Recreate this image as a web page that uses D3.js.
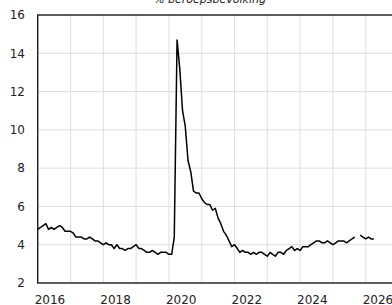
<!DOCTYPE html>
<html lang="nl">
<head>
  <meta charset="UTF-8">
  <title>Werkloosheid VS</title>
  <script src="https://d3js.org/d3.v7.min.js"></script>
  <style>
    body { margin: 0; background: #fff; }
    svg { display: block; font-family: "DejaVu Sans", sans-serif; }
    .tick-label { font-size: 12px; fill: #222; }
    .grid { stroke: #dedede; stroke-width: 1; }
  </style>
</head>
<body>
  <svg width="392" height="305"></svg>

  <script>
    // werkloosheid, % beroepsbevolking, maandcijfers (okt 2025 ontbreekt)
    const u2016 = [4.8, 4.9, 5.0, 5.1, 4.8, 4.9, 4.8, 4.9, 5.0, 4.9, 4.7, 4.7];
    const u2017 = [4.7, 4.6, 4.4, 4.4, 4.4, 4.3, 4.3, 4.4, 4.3, 4.2, 4.2, 4.1];
    const u2018 = [4.0, 4.1, 4.0, 4.0, 3.8, 4.0, 3.8, 3.8, 3.7, 3.8, 3.8, 3.9];
    const u2019 = [4.0, 3.8, 3.8, 3.7, 3.6, 3.6, 3.7, 3.6, 3.5, 3.6, 3.6, 3.6];
    const u2020 = [3.5, 3.5, 4.4, 14.7, 13.2, 11.0, 10.2, 8.4, 7.8, 6.8, 6.7, 6.7];
    const u2021 = [6.4, 6.2, 6.1, 6.1, 5.8, 5.9, 5.4, 5.1, 4.7, 4.5, 4.2, 3.9];
    const u2022 = [4.0, 3.8, 3.6, 3.7, 3.6, 3.6, 3.5, 3.6, 3.5, 3.6, 3.6, 3.5];
    const u2023 = [3.4, 3.6, 3.5, 3.4, 3.6, 3.6, 3.5, 3.7, 3.8, 3.9, 3.7, 3.8];
    const u2024 = [3.7, 3.9, 3.9, 3.9, 4.0, 4.1, 4.2, 4.2, 4.1, 4.1, 4.2, 4.1];
    const u2025 = [4.0, 4.1, 4.2, 4.2, 4.2, 4.1, 4.2, 4.3, 4.4, null, 4.5, 4.4];
    const u2026 = [4.3, 4.4, 4.3, 4.3];

    const years = [2016, 2017, 2018, 2019, 2020, 2021, 2022, 2023, 2024, 2025, 2026];
    const series = [u2016, u2017, u2018, u2019, u2020, u2021, u2022, u2023, u2024, u2025, u2026];
    const yTicks = [2, 4, 6, 8, 10, 12, 14, 16];
    const xLabelYears = [2016, 2018, 2020, 2022, 2024, 2026];
    const title = "% beroepsbevolking";

    const data = [];
    series.forEach((vals, i) => {
      vals.forEach((v, m) => data.push({ date: new Date(years[i], m, 1), value: v }));
    });

    const svg = d3.select("svg");
    const margin = { left: 37.7, top: 15, bottom: 283 };

    const x = d3.scaleTime()
      .domain([new Date(2016, 0, 1), new Date(2027, 0, 1)])
      .range([margin.left, margin.left + 11 * 32.8]);
    const y = d3.scaleLinear()
      .domain([2, 16])
      .range([margin.bottom, margin.top]);

    // raster
    svg.append("g")
      .selectAll("line")
      .data(yTicks.slice(1, -1))
      .join("line")
      .attr("class", "grid")
      .attr("x1", x.range()[0]).attr("x2", x.range()[1])
      .attr("y1", d => y(d)).attr("y2", d => y(d));

    svg.append("g")
      .selectAll("line")
      .data(d3.range(2017, 2027))
      .join("line")
      .attr("class", "grid")
      .attr("x1", d => x(new Date(d, 0, 1))).attr("x2", d => x(new Date(d, 0, 1)))
      .attr("y1", y(16)).attr("y2", y(2));

    // kader
    svg.append("rect")
      .attr("x", x.range()[0])
      .attr("y", y(16))
      .attr("width", x.range()[1] - x.range()[0])
      .attr("height", y(2) - y(16))
      .attr("fill", "none")
      .attr("stroke", "#1a1a1a")
      .attr("stroke-width", 1.4);

    // lijn
    const line = d3.line()
      .defined(d => d.value != null)
      .x(d => x(d.date))
      .y(d => y(d.value));

    svg.append("path")
      .datum(data)
      .attr("fill", "none")
      .attr("stroke", "#000")
      .attr("stroke-width", 1.5)
      .attr("stroke-linejoin", "round")
      .attr("d", line);

    // as-labels
    svg.append("g")
      .selectAll("text")
      .data(yTicks)
      .join("text")
      .attr("class", "tick-label")
      .attr("x", 25)
      .attr("y", d => y(d))
      .attr("dy", "0.36em")
      .attr("text-anchor", "end")
      .text(d => d);

    svg.append("g")
      .selectAll("text")
      .data(xLabelYears)
      .join("text")
      .attr("class", "tick-label")
      .attr("x", d => x(new Date(d, 0, 1)) - 3)
      .attr("y", 304)
      .attr("text-anchor", "start")
      .text(d => d);

    svg.append("text")
      .attr("x", 210)
      .attr("y", 3)
      .attr("text-anchor", "middle")
      .style("font-size", "11px")
      .style("font-style", "italic")
      .style("fill", "#222")
      .text(title);
  </script>
</body>
</html>
